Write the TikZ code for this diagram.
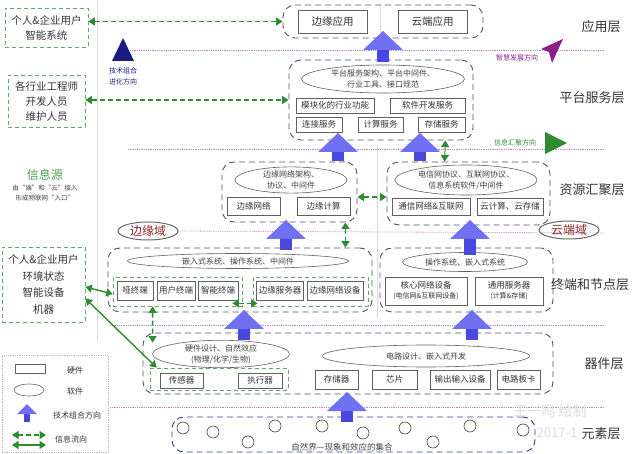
\documentclass[tikz,border=0pt]{standalone}
\usepackage{fontspec}
\setmainfont{Noto Sans CJK SC}
\usepackage{xcolor}
\usepackage{tikz}
\usetikzlibrary{shapes.geometric,arrows.meta}

\definecolor{zonec}{HTML}{50516A}
\definecolor{infog}{HTML}{2E8B30}
\definecolor{techb}{HTML}{7070F2}
\definecolor{techs}{HTML}{4848DF}
\definecolor{sepc}{HTML}{CC80CC}
\definecolor{wisdom}{HTML}{8A1E8A}
\definecolor{domainc}{HTML}{8B2525}
\definecolor{navyc}{HTML}{1B1B82}

\tikzset{
	hw/.style={draw=gray!75!black, fill=white, inner sep=0pt, align=center, font=\fontsize{8.5}{10}\selectfont, text=black!80, line width=0.6pt},
	sw/.style={ellipse, draw=gray!75!black, fill=white, inner sep=0pt, align=center, font=\fontsize{8}{11}\selectfont, text=black!75, line width=0.6pt},
	zone/.style={draw=zonec, dash pattern=on 6pt off 4pt, rounded corners=12pt, line width=0.9pt, inner sep=0pt},
	gzone/.style={draw=infog!75, dash pattern=on 4pt off 3pt, line width=0.8pt, inner sep=0pt},
	infoflow/.style={infog, line width=1.4pt, {Triangle[width=8pt,length=6.5pt]}-{Triangle[width=8pt,length=6.5pt]}},
	infodash/.style={infoflow, dash pattern=on 5pt off 3pt},
	sepline/.style={sepc, densely dotted, line width=0.8pt},
	layer/.style={font=\fontsize{13}{15}\selectfont, text=black!80},
	domainlabel/.style={ellipse, draw=black!60, line width=1pt, font=\fontsize{12}{12}\selectfont, text=domainc, minimum width=60pt, minimum height=18pt, inner sep=0pt},
}

\newcommand{\techup}[3]{%
	\fill[techs] (#1-6,#2+18) rectangle (#1+6,#3);
	\fill[techb] (#1,#2) -- (#1+20,#2+19) -- (#1-20,#2+19) -- cycle;
}

\begin{document}
\begin{tikzpicture}[x=1pt,y=-1pt]
	\useasboundingbox (0,0) rectangle (640,454);
	\draw[gray!30, line width=0.6pt] (97,0) -- (97,340);
	\draw[gray!35, densely dotted, line width=0.6pt] (380,5) -- (380,38);
	\draw[gray!30, line width=0.6pt] (377,145) -- (377,318);

	\draw[sepline] (130,50) -- (605,50);
	\draw[sepline] (128,149) -- (605,149);
	\draw[sepline] (110,325) -- (605,325);
	\draw[sepline] (110,407) -- (605,407);

	% application layer
	\node[zone, minimum width=200pt, minimum height=33pt] (appzone) at (383,21.5) {};
	\node[hw, minimum width=69pt, minimum height=23pt, font=\fontsize{10.5}{12}\selectfont] (edgeapp) at (332.5,21.5) {边缘应用};
	\node[hw, minimum width=69pt, minimum height=23pt, font=\fontsize{10.5}{12}\selectfont] (cloudapp) at (432.5,21.5) {云端应用};

	% platform layer
	\node[zone, minimum width=184pt, minimum height=80pt] (platzone) at (381,100) {};
	\node[sw, minimum width=163pt, minimum height=28pt] (platsw) at (383,79) {平台服务架构、平台中间件、\\行业工具、接口规范};
	\node[hw, minimum width=78pt, minimum height=15pt] (modfunc) at (335,105.5) {模块化的行业功能};
	\node[hw, minimum width=75pt, minimum height=15pt] (devsvc) at (427.5,105.5) {软件开发服务};
	\node[hw, minimum width=46pt, minimum height=15pt] (connsvc) at (319,124.5) {连接服务};
	\node[hw, minimum width=45pt, minimum height=15pt] (compsvc) at (380.5,124.5) {计算服务};
	\node[hw, minimum width=47pt, minimum height=15pt] (storsvc) at (441.5,124.5) {存储服务};

	% resource layer
	\node[zone, minimum width=135pt, minimum height=60pt] (edgeres) at (289.5,192) {};
	\node[sw, minimum width=112pt, minimum height=26pt] (edgeressw) at (291,180) {边缘网络架构、\\协议、中间件};
	\node[hw, minimum width=53pt, minimum height=18pt] (edgenet) at (253.5,206) {边缘网络};
	\node[hw, minimum width=53pt, minimum height=18pt] (edgecomp) at (323.5,206) {边缘计算};
	\node[zone, minimum width=163pt, minimum height=63pt] (cloudres) at (468.5,193.5) {};
	\node[sw, minimum width=142pt, minimum height=30pt] (cloudressw) at (466,180) {电信网协议、互联网协议、\\信息系统软件/中间件};
	\node[hw, minimum width=78pt, minimum height=17pt] (telnet) at (431,206.5) {通信网络\&互联网};
	\node[hw, minimum width=66pt, minimum height=17pt] (cloudcomp) at (510,206.5) {云计算、云存储};

	\node[domainlabel] (edgedom) at (148,231) {边缘域};
	\draw[sepline] (edgedom.east) -- (605,233);
	\node[domainlabel] (clouddom) at (569,230) {云端域};

	% terminal and node layer
	\node[zone, minimum width=264pt, minimum height=64pt] (edgeterm) at (240,280) {};
	\node[sw, minimum width=221pt, minimum height=15pt] (edgetermsw) at (238,261) {嵌入式系统、操作系统、中间件};
	\node[gzone, minimum width=129pt, minimum height=29pt] (gboxA) at (177.5,291.5) {};
	\node[hw, minimum width=36pt, minimum height=19pt] (dumb) at (135,290.5) {哑终端};
	\node[hw, minimum width=38pt, minimum height=19pt] (userterm) at (176,290.5) {用户终端};
	\node[hw, minimum width=40pt, minimum height=19pt] (smartterm) at (218,290.5) {智能终端};
	\node[gzone, minimum width=115pt, minimum height=29pt] (gboxB) at (310.5,291.5) {};
	\node[hw, minimum width=47pt, minimum height=19pt] (edgesrv) at (280,290.5) {边缘服务器};
	\node[hw, minimum width=56pt, minimum height=19pt] (edgenetdev) at (335,290.5) {边缘网络设备};
	\node[zone, minimum width=173pt, minimum height=64pt] (cloudterm) at (466.5,280) {};
	\node[sw, minimum width=125pt, minimum height=19pt] (cloudtermsw) at (465,262) {操作系统、嵌入式系统};
	\node[hw, minimum width=82pt, minimum height=28pt] (corenet) at (426,291) {核心网络设备\\{\fontsize{7}{8}\selectfont (电信网\&互联网设备)}};
	\node[hw, minimum width=68pt, minimum height=28pt] (gensrv) at (509,291) {通用服务器\\{\fontsize{7}{8}\selectfont (计算\&存储)}};

	% device layer
	\node[zone, minimum width=410pt, minimum height=61pt] (devzone) at (348,363.5) {};
	\node[sw, minimum width=137pt, minimum height=25pt] (devswA) at (221,354) {硬件设计、自然效应\\(物理/化学/生物)};
	\node[sw, minimum width=207pt, minimum height=22pt] (devswB) at (426,356) {电路设计、嵌入式开发};
	\node[gzone, minimum width=138pt, minimum height=22pt] (gboxC) at (219,379) {};
	\node[hw, minimum width=43pt, minimum height=15pt] (sensor) at (181.5,380.5) {传感器};
	\node[hw, minimum width=44pt, minimum height=15pt] (actuator) at (260,380.5) {执行器};
	\node[hw, minimum width=43pt, minimum height=19pt] (memory) at (336.5,379.5) {存储器};
	\node[hw, minimum width=45pt, minimum height=19pt] (chip) at (394.5,379.5) {芯片};
	\node[hw, minimum width=60pt, minimum height=19pt] (iodev) at (460,379.5) {输出输入设备};
	\node[hw, minimum width=43pt, minimum height=19pt] (board) at (518.5,379.5) {电路板卡};

	% element layer
	\node[zone, minimum width=363pt, minimum height=35pt, draw=zonec!70!blue] (elemzone) at (353.5,434.5) {};
	\foreach \cx/\cy in {183/428, 213/432, 248/442, 275/426, 322/426, 363/433, 405/428, 433/442, 470/426, 523/430}
		\draw[black!75, line width=0.6pt] (\cx,\cy) circle (6pt);
	\node[font=\fontsize{8.5}{10}\selectfont, text=black!75] (nature) at (342,447) {自然界---现象和效应的集合};

	% left side
	\node[gzone, minimum width=83pt, minimum height=39pt, align=center, font=\fontsize{10.5}{15}\selectfont, text=black!80] (userA) at (46.5,27.5) {个人\&企业用户\\智能系统};
	\node[gzone, minimum width=77pt, minimum height=52pt, align=center, font=\fontsize{10.5}{15}\selectfont, text=black!80] (engineer) at (46.5,101) {各行业工程师\\开发人员\\维护人员};
	\node[font=\fontsize{12}{12}\selectfont, text=infog!85] (infosrc) at (45,175) {信息源};
	\node[font=\fontsize{6.5}{10}\selectfont, text=black!75, align=center] (infonote) at (45,193) {由“端”和“云”接入\\形成物联网“入口”};
	\node[gzone, minimum width=83pt, minimum height=75pt, align=center, font=\fontsize{10.5}{16.5}\selectfont, text=black!80] (userB) at (43.5,284.5) {个人\&企业用户\\环境状态\\智能设备\\机器};

	\fill[navyc] (112,61) -- (123,38) -- (134,61) -- cycle;
	\node[font=\fontsize{7}{11}\selectfont, text=navyc, align=center] (techdir) at (123,76) {技术组合\\进化方向};

	\fill[wisdom] (563,39) -- (541,49) -- (549,52) -- (552,63) -- cycle;
	\node[font=\fontsize{7}{9}\selectfont, text=wisdom] (wisdomdir) at (517,58) {智慧发展方向};
	\fill[infog] (545,132) -- (567,143) -- (545,154) -- cycle;
	\node[font=\fontsize{7}{9}\selectfont, text=infog] (gatherdir) at (515,143) {信息汇聚方向};

	% information flow
	\draw[infodash] (userA.east |- appzone.west) -- (appzone.west);
	\draw[infodash] (engineer.east |- platzone.west) -- (platzone.west);
	\draw[infodash] (edgeres.east |- 0,197) -- (cloudres.west |- 0,197);
	\draw[infodash] ([xshift=-12pt]edgeres.south east) -- ([xshift=-27pt]edgeterm.north east);
	\draw[infodash] ([xshift=-10pt,yshift=3pt]gboxA.south east) -- ([xshift=5pt,yshift=3pt]gboxB.south west);
	\draw[infodash] ([xshift=40pt]gboxA.south west) -- ([xshift=10pt,yshift=-10pt]devzone.north west);
	\draw[infoflow, line width=1pt] ([xshift=-28pt]platzone.south east) -- ([xshift=58pt]cloudres.north west);
	\draw[infoflow] ([yshift=-2.5pt]userB.east) -- ([yshift=-2.5pt]gboxA.west);
	\draw[infoflow] ([yshift=-14pt]userB.east) -- ([xshift=7pt]gboxC.north west);

	% technology combination
	\techup{383}{31}{62}
	\techup{338}{133}{161}
	\techup{420}{133}{161}
	\techup{286}{220}{250}
	\techup{470}{220}{255}
	\techup{244}{310}{340}
	\techup{472}{310}{340}
	\techup{347}{392}{422}

	% layers
	\node[layer] (lapp) at (601,27) {应用层};
	\node[layer] (lplat) at (592,98) {平台服务层};
	\node[layer] (lres) at (592,190) {资源汇聚层};
	\node[layer] (lterm) at (590,285) {终端和节点层};
	\node[layer] (ldev) at (604,364) {器件层};
	\node[font=\fontsize{14}{14}\selectfont, text=gray!28] (markA) at (550,411) {王一鸣\ 绘制};
	\node[font=\fontsize{13}{13}\selectfont, text=gray!28] (markB) at (557,433) {2017-1};
	\node[layer, fill=white, inner sep=1pt] (lelem) at (601,434) {元素层};

	% legend
	\node[draw=gray!55, densely dotted, line width=0.8pt, minimum width=106pt, minimum height=97pt] (legend) at (55,403.5) {};
	\node[hw, minimum width=30pt, minimum height=9pt] (lghw) at (30,369) {};
	\node[font=\fontsize{8}{9}\selectfont, text=black!80] (lghwt) at (75,370) {硬件};
	\node[sw, minimum width=30pt, minimum height=12pt] (lgsw) at (29,390) {};
	\node[font=\fontsize{8}{9}\selectfont, text=black!80] (lgswt) at (75,391) {软件};
	\fill[techs] (24,413) rectangle (30,422);
	\fill[techb] (27,404) -- (37,414) -- (17,414) -- cycle;
	\node[font=\fontsize{8}{9}\selectfont, text=black!80] (lgtech) at (77,415) {技术组合方向};
	\coordinate (lgdA) at (12,435);
	\coordinate (lgdB) at (46,435);
	\coordinate (lgsA) at (12,445);
	\coordinate (lgsB) at (46,445);
	\draw[infodash] (lgdA) -- (lgdB);
	\draw[infoflow] (lgsA) -- (lgsB);
	\node[font=\fontsize{8}{9}\selectfont, text=black!80] (lginfo) at (71,439) {信息流向};
\end{tikzpicture}
\end{document}
